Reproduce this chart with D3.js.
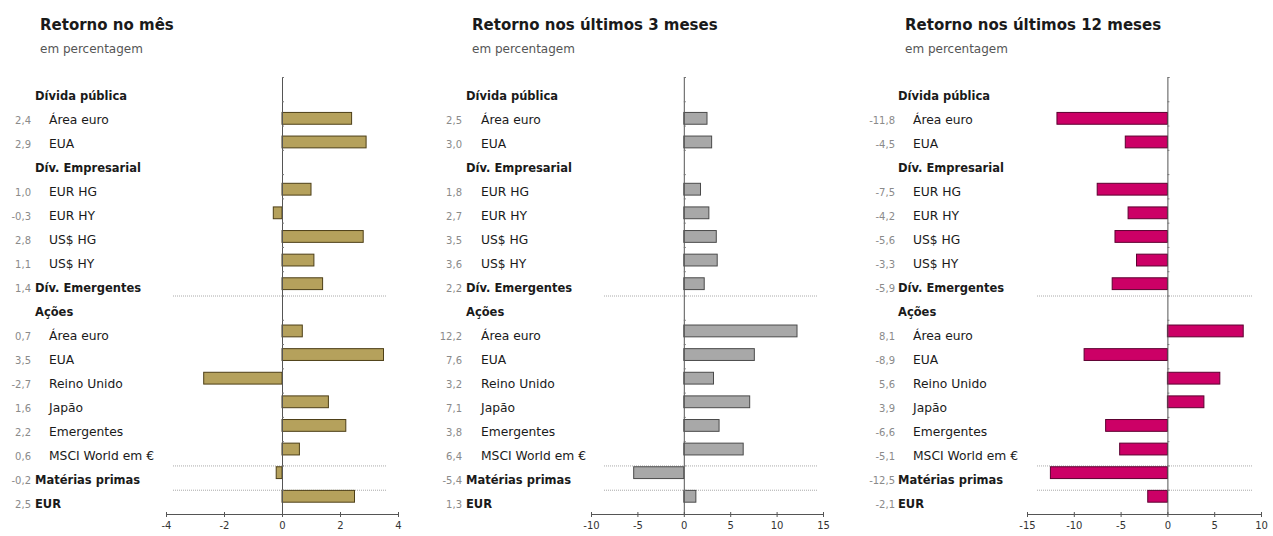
<!DOCTYPE html>
<html>
<head>
<meta charset="utf-8">
<script src="https://cdn.jsdelivr.net/npm/d3@7"></script>
<style>
  body { margin: 0; background: #fff; }
  svg { font-family: "DejaVu Sans", Verdana, sans-serif; }
</style>
</head>
<body>
<div id="chart"></div>
<script>
var width = 1273;
var height = 536;

// row labels, top to bottom
var labels = ["Dívida pública", "Área euro", "EUA", "Dív. Empresarial", "EUR HG", "EUR HY",
              "US$ HG", "US$ HY", "Dív. Emergentes", "Ações", "Área euro", "EUA", "Reino Unido",
              "Japão", "Emergentes", "MSCI World em €", "Matérias primas", "EUR"];
// bold group rows
var isHeader = [true, false, false, true, false, false, false, false, true, true,
                false, false, false, false, false, false, true, true];
// dotted lines drawn below these rows
var separators = [8, 15, 16];

var titles = ["Retorno no mês", "Retorno nos últimos 3 meses", "Retorno nos últimos 12 meses"];
var subtitle = "em percentagem";

// values (null = group header without a bar)
var monthValues = [null, 2.4, 2.9, null, 1.0, -0.3, 2.8, 1.1, 1.4, null, 0.7, 3.5, -2.7, 1.6, 2.2, 0.6, -0.2, 2.5];
var threeMonthValues = [null, 2.5, 3.0, null, 1.8, 2.7, 3.5, 3.6, 2.2, null, 12.2, 7.6, 3.2, 7.1, 3.8, 6.4, -5.4, 1.3];
var twelveMonthValues = [null, -11.8, -4.5, null, -7.5, -4.2, -5.6, -3.3, -5.9, null, 8.1, -8.9, 5.6, 3.9, -6.6, -5.1, -12.5, -2.1];

var monthTicks = [-4, -2, 0, 2, 4];
var threeMonthTicks = [-10, -5, 0, 5, 10, 15];
var twelveMonthTicks = [-15, -10, -5, 0, 5, 10];

var panels = [
    { title: titles[0], values: monthValues, ticks: monthTicks, domain: [-4, 4], range: [166, 398],
      titleX: 40, headX: 35, subX: 49, valX: 31, sep: [173, 386], fill: "#b5a15c", stroke: "#4d3f17" },
    { title: titles[1], values: threeMonthValues, ticks: threeMonthTicks, domain: [-10, 15], range: [591, 823],
      titleX: 472, headX: 466, subX: 481, valX: 462, sep: [604, 818], fill: "#a8a8a8", stroke: "#4a4a4a" },
    { title: titles[2], values: twelveMonthValues, ticks: twelveMonthTicks, domain: [-15, 10], range: [1027, 1261],
      titleX: 905, headX: 898, subX: 913, valX: 895, sep: [1037, 1252], fill: "#cc0066", stroke: "#5c0030" }
];

var svg = d3.select("#chart")
    .append("svg")
    .attr("width", width)
    .attr("height", height);

var rows = d3.range(labels.length);

// bars sit in bands, labels on their own slightly tighter grid (as in the original)
var yBand = d3.scaleBand().domain(rows).range([77, 514]).padding(0.5);
var yLabel = d3.scalePoint().domain(rows).range([100, 508]);
var yEdge = d3.scaleLinear().domain([0, labels.length]).range([77, 514]);

function fmt(v) {
    return v.toFixed(1).replace(".", ",");
}

panels.forEach(function (p) {
    var x = d3.scaleLinear().domain(p.domain).range(p.range);
    var g = svg.append("g");

    g.append("text")
        .attr("x", p.titleX)
        .attr("y", 30)
        .attr("font-size", 15)
        .attr("font-weight", "bold")
        .attr("fill", "#1a1a1a")
        .text(p.title);

    g.append("text")
        .attr("x", p.titleX)
        .attr("y", 53)
        .attr("font-size", 12)
        .attr("fill", "#555")
        .text(subtitle);

    // dotted separators
    g.selectAll(".sep")
        .data(separators)
        .enter()
        .append("line")
        .attr("x1", p.sep[0])
        .attr("x2", p.sep[1])
        .attr("y1", function (d) { return yEdge(d + 1) + 0.5; })
        .attr("y2", function (d) { return yEdge(d + 1) + 0.5; })
        .attr("stroke", "#aaa")
        .attr("stroke-dasharray", "1,1");

    // bars
    g.selectAll(".bar")
        .data(rows.filter(function (i) { return p.values[i] !== null; }))
        .enter()
        .append("rect")
        .attr("x", function (i) { return x(Math.min(0, p.values[i])); })
        .attr("y", function (i) { return yBand(i); })
        .attr("width", function (i) { return Math.abs(x(p.values[i]) - x(0)); })
        .attr("height", yBand.bandwidth())
        .attr("fill", p.fill)
        .attr("stroke", p.stroke)
        .attr("stroke-width", 1);

    // category labels
    g.selectAll(".lab")
        .data(rows)
        .enter()
        .append("text")
        .attr("x", function (i) { return isHeader[i] ? p.headX : p.subX; })
        .attr("y", function (i) { return yLabel(i); })
        .attr("font-size", function (i) { return isHeader[i] ? 11.5 : 12.3; })
        .attr("font-weight", function (i) { return isHeader[i] ? "bold" : "normal"; })
        .attr("fill", "#1a1a1a")
        .text(function (i) { return labels[i]; });

    // value labels
    g.selectAll(".val")
        .data(rows.filter(function (i) { return p.values[i] !== null; }))
        .enter()
        .append("text")
        .attr("x", p.valX)
        .attr("y", function (i) { return yLabel(i); })
        .attr("text-anchor", "end")
        .attr("font-size", 10)
        .attr("fill", "#8a8a8a")
        .text(function (i) { return fmt(p.values[i]); });

    // vertical zero axis with small ticks at row edges
    var yAxis = d3.axisRight(yEdge)
        .tickValues(d3.range(labels.length + 1))
        .tickSize(2)
        .tickFormat("");
    g.append("g")
        .attr("transform", "translate(" + x(0) + ",0)")
        .call(yAxis)
        .call(function (a) {
            a.select(".domain").attr("stroke", "#555");
            a.selectAll(".tick line").attr("stroke", "#777");
        });

    // x axis
    var xAxis = d3.axisBottom(x)
        .tickValues(p.ticks)
        .tickSize(3)
        .tickSizeOuter(0)
        .tickPadding(5)
        .tickFormat(function (d) { return d; });
    g.append("g")
        .attr("transform", "translate(0," + 514 + ")")
        .call(xAxis)
        .call(function (a) {
            a.select(".domain").attr("stroke", "#555");
            a.selectAll(".tick line").attr("stroke", "#555").attr("y1", -2);
            a.selectAll(".tick text")
                .attr("font-family", "DejaVu Sans, Verdana, sans-serif")
                .attr("font-size", 10)
                .attr("fill", "#333");
        });
});
</script>
</body>
</html>
